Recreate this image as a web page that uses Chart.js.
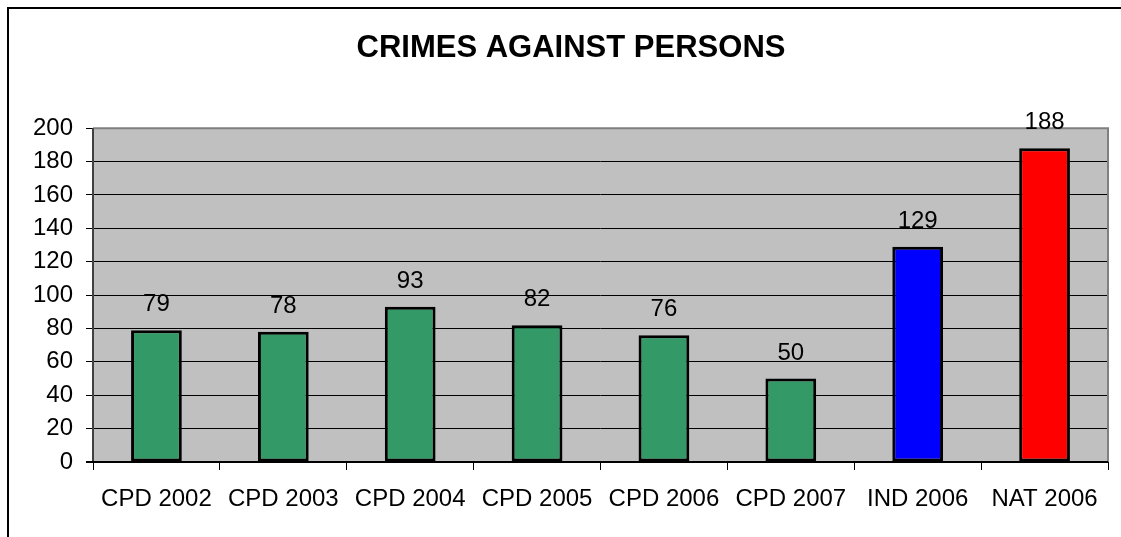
<!DOCTYPE html>
<html>
<head>
<meta charset="utf-8">
<script src="https://cdn.jsdelivr.net/npm/chart.js@4/dist/chart.umd.min.js"></script>
<style>
  html, body { margin: 0; padding: 0; background: #fff; }
  #wrap { width: 1121px; height: 537px; position: relative; }
</style>
</head>
<body>
<div id="wrap"><canvas id="c" width="1121" height="537"></canvas></div>
<script>
const categories = ['CPD 2002', 'CPD 2003', 'CPD 2004', 'CPD 2005', 'CPD 2006', 'CPD 2007', 'IND 2006', 'NAT 2006'];
const values = [79, 78, 93, 82, 76, 50, 129, 188];
const barColors = ['#339966', '#339966', '#339966', '#339966', '#339966', '#339966', '#0000FF', '#FF0000'];
const titleText = 'CRIMES AGAINST PERSONS';
const yMin = 0, yMax = 200, yStep = 20;

const FONT = '"Liberation Sans", Arial, sans-serif';

const framePlugin = {
  id: 'frame',
  beforeDraw(chart) {
    const ctx = chart.ctx;
    const a = chart.chartArea;
    ctx.save();
    ctx.fillStyle = '#fff';
    ctx.fillRect(0, 0, chart.width, chart.height);
    ctx.strokeStyle = '#000';
    ctx.lineWidth = 2;
    ctx.beginPath();
    ctx.moveTo(8, chart.height + 2);
    ctx.lineTo(8, 8);
    ctx.lineTo(chart.width + 2, 8);
    ctx.stroke();
    ctx.fillStyle = '#C0C0C0';
    ctx.fillRect(a.left, a.top, a.right - a.left, a.bottom - a.top);
    ctx.restore();
  },
  beforeDatasetsDraw(chart) {
    const ctx = chart.ctx;
    const a = chart.chartArea;
    ctx.save();
    ctx.strokeStyle = '#808080';
    ctx.lineWidth = 2;
    ctx.beginPath();
    ctx.moveTo(a.left, a.top);
    ctx.lineTo(a.right, a.top);
    ctx.lineTo(a.right, a.bottom);
    ctx.stroke();
    ctx.strokeStyle = '#404040';
    ctx.beginPath();
    ctx.moveTo(a.left, a.top);
    ctx.lineTo(a.left, a.bottom);
    ctx.stroke();
    ctx.strokeStyle = '#000';
    ctx.beginPath();
    ctx.moveTo(a.left - 7, a.bottom);
    ctx.lineTo(a.right, a.bottom);
    ctx.stroke();
    ctx.restore();
  },
  afterDatasetsDraw(chart) {
    const ctx = chart.ctx;
    const meta = chart.getDatasetMeta(0);
    ctx.save();
    ctx.fillStyle = '#000';
    ctx.font = '24px ' + FONT;
    ctx.textAlign = 'center';
    ctx.textBaseline = 'alphabetic';
    meta.data.forEach((bar, i) => {
      ctx.fillText(String(values[i]), bar.x, bar.y - 19);
    });
    ctx.restore();
  }
};

new Chart(document.getElementById('c'), {
  type: 'bar',
  data: {
    labels: categories,
    datasets: [{
      data: values,
      backgroundColor: barColors,
      borderColor: '#000',
      borderWidth: 3,
      borderSkipped: false,
      barPercentage: 0.8,
      categoryPercentage: 0.5
    }]
  },
  plugins: [framePlugin],
  options: {
    responsive: false,
    animation: false,
    devicePixelRatio: 1,
    layout: { padding: { left: 34, right: 13, top: 0, bottom: 0 } },
    plugins: {
      legend: { display: false },
      tooltip: { enabled: false },
      title: {
        display: true,
        text: titleText,
        color: '#000',
        font: { family: FONT, size: 31, weight: 'bold' },
        padding: { top: 30, bottom: 61 }
      }
    },
    scales: {
      x: {
        afterFit(scale) { scale.height = 75; },
        grid: {
          offset: true,
          drawOnChartArea: false,
          drawTicks: true,
          tickLength: 8,
          color: '#000',
          lineWidth: 1
        },
        border: { display: false },
        ticks: {
          color: '#000',
          font: { family: FONT, size: 24 },
          padding: 15,
          maxRotation: 0,
          autoSkip: false
        }
      },
      y: {
        min: yMin,
        max: yMax,
        afterFit(scale) { scale.width = 59; },
        grid: {
          color: '#000',
          lineWidth: 1,
          drawTicks: true,
          tickLength: 7
        },
        border: { display: false },
        ticks: {
          stepSize: yStep,
          color: '#000',
          font: { family: FONT, size: 24 },
          padding: 13
        }
      }
    }
  }
});
</script>
</body>
</html>
